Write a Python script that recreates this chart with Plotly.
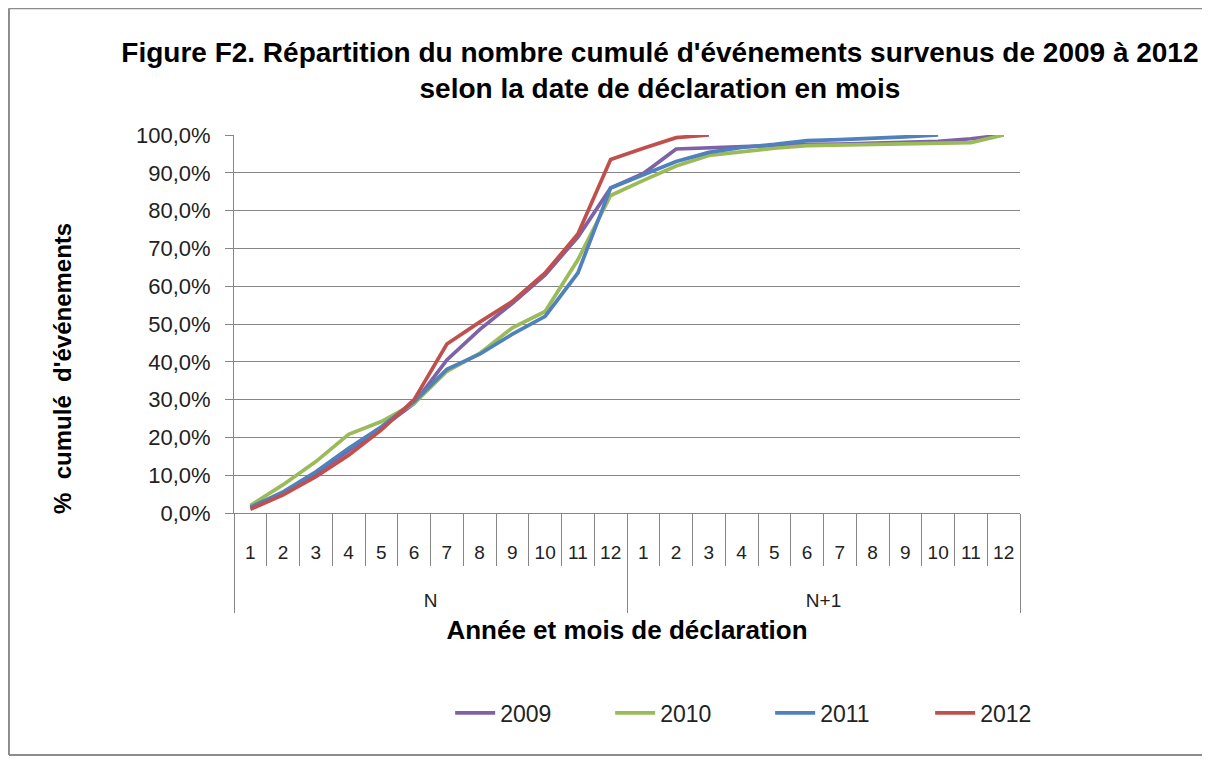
import plotly.graph_objects as go

# Année (N / N+1) et mois de déclaration
years = ['N', 'N+1']
months = [str(m) for m in range(1, 13)]

# % cumulé d'événements par année de survenue
v2009 = [1.5, 5.0, 10.5, 16.5, 22.5, 29.0, 40.5, 48.5, 55.5, 63.0, 73.0, 86.0,
         89.8, 96.3, 96.6, 97.0, 97.2, 97.5, 97.6, 97.8, 98.0, 98.3, 99.0, 100.0]
v2010 = [2.0, 7.5, 13.6, 20.8, 24.2, 29.0, 37.5, 42.2, 49.0, 53.3, 67.0, 84.0,
         88.0, 91.8, 94.6, 95.6, 96.5, 97.2, 97.4, 97.5, 97.6, 97.8, 98.0, 100.0]
v2011 = [1.5, 5.6, 10.9, 17.1, 22.8, 29.5, 38.0, 42.0, 47.3, 52.0, 63.5, 86.0,
         89.5, 93.0, 95.4, 96.7, 97.5, 98.5, 98.8, 99.1, 99.5, 100.0, None, None]
v2012 = [1.0, 4.8, 9.6, 15.3, 22.0, 30.0, 44.7, 50.5, 56.0, 63.5, 73.8, 93.5,
         96.5, 99.3, 100.0, None, None, None, None, None, None, None, None, None]

series = [('2009', v2009, '#7E62A6'),
          ('2010', v2010, '#9BBB59'),
          ('2011', v2011, '#4F81BD'),
          ('2012', v2012, '#C0504D')]

# position of each (year, month) on the x axis
n = len(years) * len(months)
xpos = list(range(1, n + 1))
month_text = months * len(years)
year_centers = [len(months) * i + (len(months) + 1) / 2 for i in range(len(years))]
month_bounds = [i + 0.5 for i in range(n + 1)]
year_bounds = [len(months) * i + 0.5 for i in range(len(years) + 1)]

fig = go.Figure()
for name, vals, color in series:
    fig.add_trace(go.Scatter(
        x=xpos,
        y=[v / 100 if v is not None else None for v in vals],
        name=name,
        mode='lines',
        line=dict(color=color, width=3.7),
        connectgaps=False
    ))

# empty trace so the year axis (x2) gets drawn
fig.add_trace(go.Scatter(x=year_centers, y=[None] * len(years), xaxis='x2',
                         showlegend=False, hoverinfo='skip', mode='lines'))

font = 'Liberation Sans, Arial, sans-serif'
grey = '#868686'

# chart frame (left, top, bottom edges; right edge is off the picture)
frame = dict(type='line', xref='paper', yref='paper',
             line=dict(color='#8C8C8C', width=2), layer='below')
left, right, bottom, top = -0.2863, 1.5, -0.64, 1.335

fig.update_layout(
    width=1194, height=748,
    margin=dict(l=226, r=182, t=127, b=243),
    paper_bgcolor='white', plot_bgcolor='white',
    separators=', ',
    font=dict(family=font, size=18, color='#222222'),
    title=dict(
        text="Figure F2. Répartition du nombre cumulé d'événements survenus de 2009 à 2012"
             "<br>selon la date de déclaration en mois",
        x=0.546, xanchor='center', y=0.9278, yanchor='top',
        font=dict(family=font, size=28, color='black', weight='bold')
    ),
    xaxis=dict(
        range=[0.5, n + 0.5],
        tickmode='array', tickvals=xpos, ticktext=month_text,
        ticks='', ticklabelstandoff=22,
        minor=dict(tickmode='array', tickvals=month_bounds, ticks='outside',
                   ticklen=52, tickcolor=grey, showgrid=False),
        showgrid=False, zeroline=False,
        showline=True, linecolor=grey, linewidth=1,
        tickfont=dict(size=19, color='#222222'),
    ),
    xaxis2=dict(
        overlaying='x', anchor='y', side='bottom',
        range=[0.5, n + 0.5],
        tickmode='array', tickvals=year_centers, ticktext=years,
        ticks='', ticklabelstandoff=74,
        minor=dict(tickmode='array', tickvals=year_bounds, ticks='outside',
                   ticklen=99, tickcolor=grey, showgrid=False),
        showgrid=False, zeroline=False, showline=False,
        tickfont=dict(size=19, color='#222222'),
        title=dict(text='Année et mois de déclaration',
                   font=dict(size=26, color='black', weight='bold'),
                   standoff=10)
    ),
    yaxis=dict(
        range=[0, 1], tickformat='.1%', dtick=0.1,
        showgrid=True, gridcolor=grey, gridwidth=1,
        showline=True, linecolor=grey, linewidth=1,
        ticks='outside', ticklen=8, tickcolor=grey, ticklabelstandoff=10,
        zeroline=False,
        tickfont=dict(size=22, color='#222222'),
    ),
    legend=dict(
        orientation='h', x=0.275, xanchor='left', y=-0.529, yanchor='middle',
        font=dict(size=23, color='#222222'),
        entrywidth=105, entrywidthmode='pixels', itemwidth=40
    ),
    annotations=[dict(
        text="%  cumulé  d'événements", textangle=-90,
        xref='paper', yref='paper', x=-0.2176, y=0.3836,
        xanchor='center', yanchor='middle', showarrow=False,
        font=dict(size=24, color='black', weight='bold')
    )],
    shapes=[dict(frame, x0=left, x1=left, y0=bottom, y1=top),
            dict(frame, x0=left, x1=right, y0=top, y1=top),
            dict(frame, x0=left, x1=right, y0=bottom, y1=bottom)]
)

fig.write_html('out.html')
